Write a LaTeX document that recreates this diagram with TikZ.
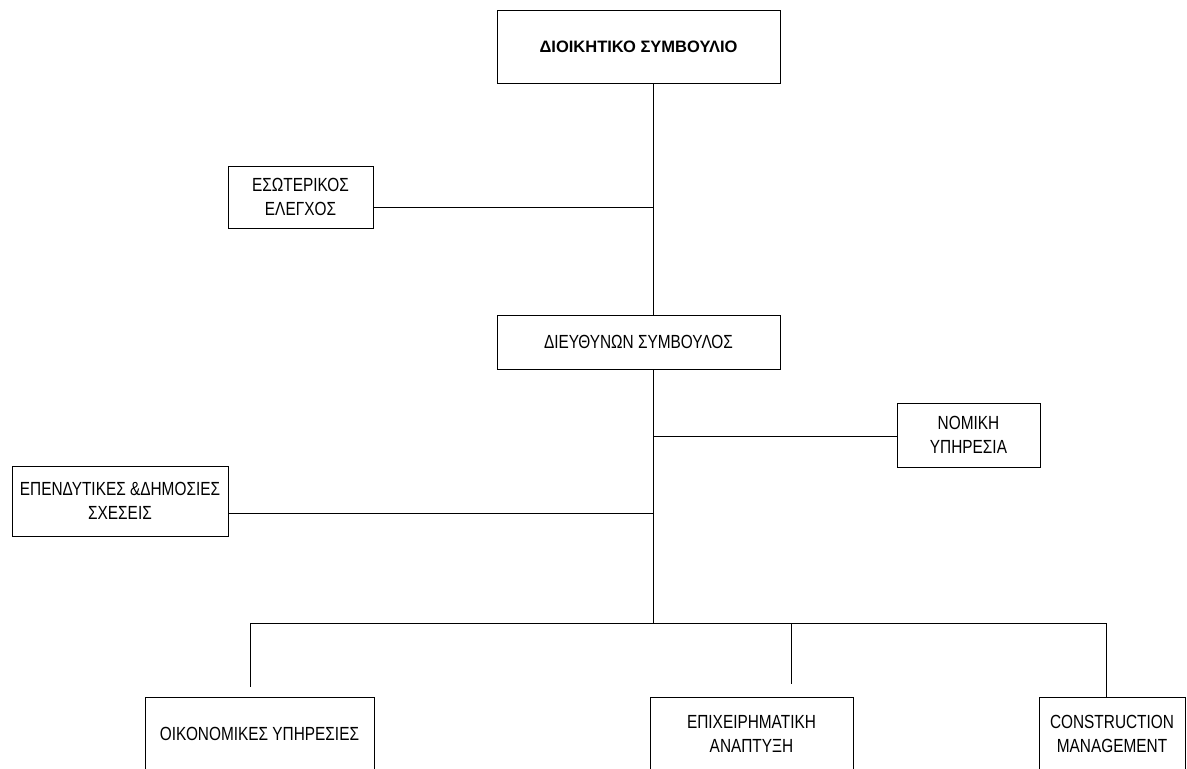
\documentclass[tikz,border=0pt]{standalone}
\usepackage{fontspec}
\setmainfont{Liberation Sans}
\newfontfamily\condf[FakeStretch=0.81]{Liberation Sans}
\begin{document}
\begin{tikzpicture}[x=1pt,y=-1pt,
  box/.style={draw=black,line width=1pt,fill=white,align=center,inner sep=0pt,
    font=\condf\fontsize{19}{23.5}\selectfont},
  link/.style={draw=black,line width=1pt}]
\useasboundingbox (0,0) rectangle (1187,769);
\clip (0,0) rectangle (1187,769);
\fill[white] (0,0) rectangle (1187,769);

% nodes
\node[box,minimum width=283,minimum height=73,font=\bfseries\fontsize{16.5}{19}\selectfont] (board) at (638.5,46.5) {ΔΙΟΙΚΗΤΙΚΟ ΣΥΜΒΟΥΛΙΟ};
\node[box,minimum width=145,minimum height=62] (audit) at (300.5,197) {ΕΣΩΤΕΡΙΚΟΣ\\ΕΛΕΓΧΟΣ};
\node[box,minimum width=283,minimum height=54] (ceo) at (638.5,342) {ΔΙΕΥΘΥΝΩΝ ΣΥΜΒΟΥΛΟΣ};
\node[box,minimum width=143,minimum height=64] (legal) at (968.5,435) {ΝΟΜΙΚΗ\\ΥΠΗΡΕΣΙΑ};
\node[box,minimum width=216,minimum height=70] (ir) at (120,501) {ΕΠΕΝΔΥΤΙΚΕΣ \&ΔΗΜΟΣΙΕΣ\\ΣΧΕΣΕΙΣ};
\node[box,minimum width=229,minimum height=74] (fin) at (259.5,734) {ΟΙΚΟΝΟΜΙΚΕΣ ΥΠΗΡΕΣΙΕΣ};
\node[box,minimum width=203,minimum height=74] (bd) at (751.5,734) {ΕΠΙΧΕΙΡΗΜΑΤΙΚΗ\\ΑΝΑΠΤΥΞΗ};
\node[box,minimum width=146,minimum height=74] (cm) at (1112,734) {CONSTRUCTION\\MANAGEMENT};

% spine coordinates
\coordinate (sAudit) at (653,207);
\coordinate (sLegal) at (653,436);
\coordinate (sIr) at (653,513);
\coordinate (sBus) at (653,623);
\coordinate (busL) at (250,623);
\coordinate (busM) at (791,623);
\coordinate (busR) at (1106,623);
\coordinate (dropL) at (250,687);
\coordinate (dropM) at (791,684);

% connectors
\draw[link] (board.south -| sAudit) -- (ceo.north -| sAudit);
\draw[link] (audit.east |- sAudit) -- (sAudit);
\draw[link] (ceo.south -| sBus) -- (sBus);
\draw[link] (sLegal) -- (legal.west |- sLegal);
\draw[link] (ir.east |- sIr) -- (sIr);
\draw[link] (busL) -- (busR);
\draw[link] (busL) -- (dropL);
\draw[link] (busM) -- (dropM);
\draw[link] (busR) -- (cm.north -| busR);
\end{tikzpicture}
\end{document}
